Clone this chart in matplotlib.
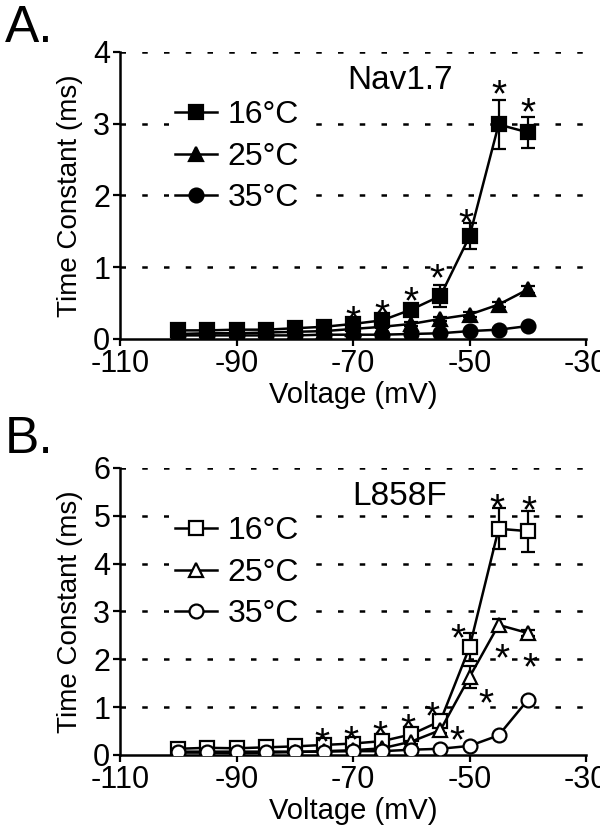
import matplotlib
matplotlib.use('Agg')
import matplotlib.pyplot as plt

plt.rcParams['font.family'] = ['Liberation Sans', 'DejaVu Sans']
plt.rcParams['axes.unicode_minus'] = False

# test voltages (mV)
volts = [-100, -95, -90, -85, -80, -75, -70, -65, -60, -55, -50, -45, -40]
temps = ['16°C', '25°C', '35°C']

# Nav1.7 time constants (ms)
nav_16 = [0.12, 0.12, 0.13, 0.13, 0.15, 0.17, 0.21, 0.26, 0.41, 0.60, 1.43, 2.99, 2.88]
nav_16_err = [0.01, 0.01, 0.01, 0.01, 0.02, 0.02, 0.03, 0.04, 0.08, 0.15, 0.18, 0.34, 0.22]
nav_25 = [0.07, 0.08, 0.08, 0.09, 0.10, 0.11, 0.14, 0.17, 0.21, 0.28, 0.34, 0.48, 0.69]
nav_25_err = [0.01, 0.01, 0.01, 0.01, 0.01, 0.01, 0.02, 0.02, 0.03, 0.03, 0.03, 0.04, 0.05]
nav_35 = [0.05, 0.05, 0.05, 0.05, 0.05, 0.06, 0.06, 0.06, 0.07, 0.08, 0.11, 0.13, 0.18]
nav_35_err = [0.01, 0.01, 0.01, 0.01, 0.01, 0.01, 0.01, 0.01, 0.01, 0.01, 0.01, 0.02, 0.02]

# L858F time constants (ms)
l858_16 = [0.13, 0.15, 0.14, 0.16, 0.18, 0.21, 0.24, 0.29, 0.43, 0.71, 2.25, 4.73, 4.68]
l858_16_err = [0.02, 0.02, 0.02, 0.02, 0.03, 0.03, 0.04, 0.05, 0.07, 0.10, 0.29, 0.43, 0.43]
l858_25 = [0.05, 0.05, 0.04, 0.05, 0.06, 0.08, 0.10, 0.14, 0.28, 0.52, 1.63, 2.72, 2.55]
l858_25_err = [0.01, 0.01, 0.01, 0.01, 0.01, 0.01, 0.02, 0.02, 0.04, 0.06, 0.23, 0.13, 0.07]
l858_35 = [0.07, 0.07, 0.07, 0.07, 0.07, 0.07, 0.08, 0.08, 0.11, 0.13, 0.19, 0.41, 1.15]
l858_35_err = [0.01, 0.01, 0.01, 0.01, 0.01, 0.01, 0.01, 0.01, 0.01, 0.02, 0.02, 0.03, 0.05]

# significance (index into volts)
nav_sig_16 = [6, 7, 8, 9, 10, 11, 12]
l858_sig_16 = [5, 6, 7, 8, 9, 10, 11, 12]
l858_sig_25 = [9, 10, 11, 12]

# star placement relative to the point, in pixels
nav_star_off_16 = [(0, 14), (0, 16), (0, 18), (-3, 28), (-4, 23), (0, 40), (0, 30)]
l858_star_off_16 = [(-2, 13), (-2, 13), (-2, 16), (-3, 16), (-8, 15), (-12, 19), (-2, 30), (1, 31)]
l858_star_off_25 = [(17, 0), (16, -16), (3, -23), (2, -24)]
STAR_SHIFT = 12

markers = ['s', '^', 'o']
msizes = [10, 10.5, 10]


def draw_panel(ax, series, errs, ymax, name, filled, stars):
    for y in range(1, ymax + 1):
        ax.axhline(y, color='k', lw=1.8, ls=(0, (2.2, 6.5)), dash_capstyle='butt', zorder=1)
    for s, e, m, ms, lab in zip(series, errs, markers, msizes, temps):
        ax.errorbar(volts, s, yerr=e, fmt='none', ecolor='k', elinewidth=1.6,
                    capsize=5, capthick=1.6, zorder=3)
        ax.plot(volts, s, color='k', lw=1.8, marker=m, ms=ms, mew=1.6,
                mfc='k' if filled else 'white', mec='k', label=lab, zorder=4)
    for si, idx, offs in stars:
        for i, (dx, dy) in zip(idx, offs):
            ax.annotate('*', (volts[i], series[si][i]), xytext=(dx, dy - STAR_SHIFT),
                        textcoords='offset pixels', ha='center', va='center',
                        fontsize=28, zorder=5)
    ax.set_xlim(-110, -30)
    ax.set_ylim(0, ymax)
    ax.set_xticks(range(-110, -29, 20))
    ax.set_yticks(range(0, ymax + 1))
    for sp in ['top', 'right']:
        ax.spines[sp].set_visible(False)
    for sp in ['left', 'bottom']:
        ax.spines[sp].set_linewidth(1.8)
    ax.tick_params(direction='out', length=5, width=1.6, labelsize=22, pad=2)
    ax.set_xlabel('Voltage (mV)', fontsize=21, labelpad=2)
    ax.set_ylabel('Time Constant (ms)', fontsize=20)
    ax.yaxis.set_label_coords(-0.08, 0.5)
    ax.text(0.6, 0.9, name, transform=ax.transAxes, ha='center', va='center', fontsize=24)
    leg = ax.legend(loc='upper left', bbox_to_anchor=(0.07, 0.91), fontsize=23,
                    frameon=True, facecolor='white', edgecolor='none', framealpha=1,
                    handlelength=1.3, handletextpad=0.35, labelspacing=0.36,
                    borderpad=0.2)
    leg.set_zorder(6)


fig = plt.figure(figsize=(6, 8.36), dpi=100)
axA = fig.add_axes([0.2, 0.5945, 0.7767, 0.3433])
axB = fig.add_axes([0.2, 0.0969, 0.7767, 0.3433])

draw_panel(axA, [nav_16, nav_25, nav_35], [nav_16_err, nav_25_err, nav_35_err], 4,
           'Nav1.7', True, [(0, nav_sig_16, nav_star_off_16)])
draw_panel(axB, [l858_16, l858_25, l858_35], [l858_16_err, l858_25_err, l858_35_err], 6,
           'L858F', False, [(0, l858_sig_16, l858_star_off_16),
                            (1, l858_sig_25, l858_star_off_25)])

fig.text(0.008, 0.95, 'A.', fontsize=37, va='baseline')
fig.text(0.008, 0.458, 'B.', fontsize=37, va='baseline')

fig.savefig('out.png', dpi=100)
